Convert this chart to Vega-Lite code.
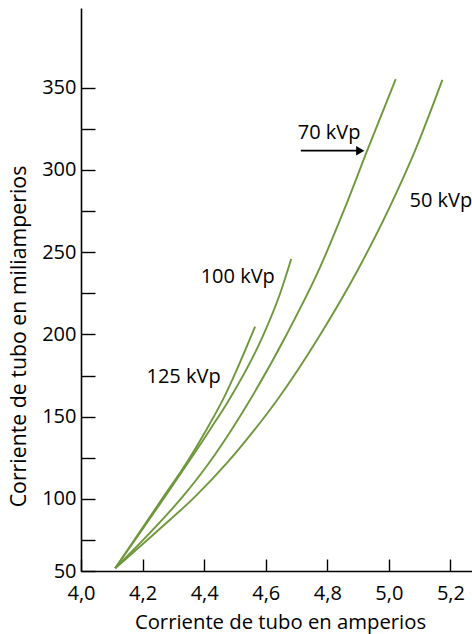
{
  "$schema": "https://vega.github.io/schema/vega-lite/v6.json",
  "width": 391,
  "height": 563,
  "autosize": {"type": "none"},
  "padding": {"left": 81, "top": 8, "right": 0, "bottom": 63},
  "background": "white",
  "config": {
    "view": {"stroke": null},
    "font": "Open Sans",
    "axis": {
      "grid": false,
      "domainColor": "black",
      "domainWidth": 1.6,
      "tickColor": "black",
      "tickWidth": 1.4,
      "labelColor": "black",
      "labelFont": "Open Sans",
      "labelFontSize": 20,
      "titleFont": "Open Sans",
      "titleFontSize": 20,
      "titleFontWeight": "normal",
      "titleColor": "black",
      "labelFlush": false,
      "labelOverlap": false,
      "labelBound": false
    }
  },
  "layer": [
    {
      "data": {
        "values": [
          {"kvp": "125", "a": 4.1111, "ma": 57.88},
          {"kvp": "125", "a": 4.1949, "ma": 81.16},
          {"kvp": "125", "a": 4.2683, "ma": 101.4},
          {"kvp": "125", "a": 4.342, "ma": 121.7},
          {"kvp": "125", "a": 4.407, "ma": 141.94},
          {"kvp": "125", "a": 4.4605, "ma": 160.17},
          {"kvp": "125", "a": 4.5654, "ma": 204.73},
          {"kvp": "100", "a": 4.1111, "ma": 57.88},
          {"kvp": "100", "a": 4.1981, "ma": 81.16},
          {"kvp": "100", "a": 4.2728, "ma": 101.4},
          {"kvp": "100", "a": 4.3465, "ma": 121.7},
          {"kvp": "100", "a": 4.4183, "ma": 141.94},
          {"kvp": "100", "a": 4.4807, "ma": 160.17},
          {"kvp": "100", "a": 4.5924, "ma": 199.68},
          {"kvp": "100", "a": 4.6473, "ma": 225.21},
          {"kvp": "100", "a": 4.6827, "ma": 245.88},
          {"kvp": "70", "a": 4.1111, "ma": 57.88},
          {"kvp": "70", "a": 4.2329, "ma": 81.16},
          {"kvp": "70", "a": 4.3303, "ma": 101.4},
          {"kvp": "70", "a": 4.4151, "ma": 121.7},
          {"kvp": "70", "a": 4.4885, "ma": 141.94},
          {"kvp": "70", "a": 4.5489, "ma": 160.17},
          {"kvp": "70", "a": 4.6671, "ma": 199.68},
          {"kvp": "70", "a": 4.7726, "ma": 239.19},
          {"kvp": "70", "a": 4.8545, "ma": 275.66},
          {"kvp": "70", "a": 4.9305, "ma": 312.13},
          {"kvp": "70", "a": 5.0221, "ma": 355.11},
          {"kvp": "50", "a": 4.1111, "ma": 57.88},
          {"kvp": "50", "a": 4.2517, "ma": 81.16},
          {"kvp": "50", "a": 4.3706, "ma": 101.4},
          {"kvp": "50", "a": 4.4735, "ma": 121.7},
          {"kvp": "50", "a": 4.5632, "ma": 141.94},
          {"kvp": "50", "a": 4.6372, "ma": 160.17},
          {"kvp": "50", "a": 4.7765, "ma": 199.68},
          {"kvp": "50", "a": 4.899, "ma": 239.19},
          {"kvp": "50", "a": 4.9984, "ma": 275.66},
          {"kvp": "50", "a": 5.086, "ma": 312.13},
          {"kvp": "50", "a": 5.1737, "ma": 354.68}
        ]
      },
      "mark": {"type": "line", "color": "#6f983c", "strokeWidth": 1.9, "interpolate": "monotone", "clip": false},
      "encoding": {
        "detail": {"field": "kvp", "type": "nominal"},
        "x": {
          "field": "a",
          "type": "quantitative",
          "scale": {"domain": [4.0, 5.27], "nice": false, "zero": false},
          "axis": {
            "title": "Corriente de tubo en amperios",
            "values": [4.0, 4.1, 4.2, 4.3, 4.4, 4.5, 4.6, 4.7, 4.8, 4.9, 5.0, 5.1, 5.2],
            "labelExpr": "round(datum.value * 10) % 2 === 0 ? replace(format(datum.value, '.1f'), '.', ',') : ''",
            "tickSize": -12,
            "labelPadding": 24,
            "titleX": 199,
            "titleY": 57,
            "titleFontSize": 20.3,
            "titleAlign": "center",
            "titleBaseline": "alphabetic",
            "titleAnchor": null
          }
        },
        "y": {
          "field": "ma",
          "type": "quantitative",
          "scale": {"domain": [56.2, 398.4], "nice": false, "zero": false},
          "axis": {
            "title": "Corriente de tubo en miliamperios",
            "values": [56.2, 75, 100, 125, 150, 175, 200, 225, 250, 275, 300, 325, 350],
            "labelExpr": "datum.value < 60 ? '50' : (datum.value % 50 === 0 ? format(datum.value, 'd') : '')",
            "tickSize": -14,
            "labelPadding": 19,
            "labelBaseline": "middle",
            "titleAngle": -90,
            "titleX": -56,
            "titleY": 328,
            "titleFontSize": 21.3,
            "titleAlign": "center",
            "titleBaseline": "alphabetic"
          }
        }
      }
    },
    {
      "data": {
        "values": [
          {"label": "125 kVp", "a": 4.333, "ma": 170.2},
          {"label": "100 kVp", "a": 4.509, "ma": 231.5},
          {"label": "70 kVp", "a": 4.806, "ma": 318.8}
        ]
      },
      "mark": {"type": "text", "font": "Open Sans", "fontSize": 20, "color": "black", "align": "center", "baseline": "alphabetic"},
      "encoding": {
        "x": {"field": "a", "type": "quantitative"},
        "y": {"field": "ma", "type": "quantitative"},
        "text": {"field": "label"}
      }
    },
    {
      "data": {"values": [{"label": "50 kVp", "a": 5.067, "ma": 277.3}]},
      "mark": {"type": "text", "font": "Open Sans", "fontSize": 20, "color": "black", "align": "left", "baseline": "alphabetic"},
      "encoding": {
        "x": {"field": "a", "type": "quantitative"},
        "y": {"field": "ma", "type": "quantitative"},
        "text": {"field": "label"}
      }
    },
    {
      "data": {"values": [{"a": 4.714, "a2": 4.9, "ma": 311.7}]},
      "mark": {"type": "rule", "color": "black", "strokeWidth": 1.8},
      "encoding": {
        "x": {"field": "a", "type": "quantitative"},
        "x2": {"field": "a2"},
        "y": {"field": "ma", "type": "quantitative"}
      }
    },
    {
      "data": {"values": [{"a": 4.907, "ma": 311.7}]},
      "mark": {"type": "point", "shape": "triangle-right", "filled": true, "color": "black", "size": 90, "opacity": 1},
      "encoding": {
        "x": {"field": "a", "type": "quantitative"},
        "y": {"field": "ma", "type": "quantitative"}
      }
    }
  ]
}
